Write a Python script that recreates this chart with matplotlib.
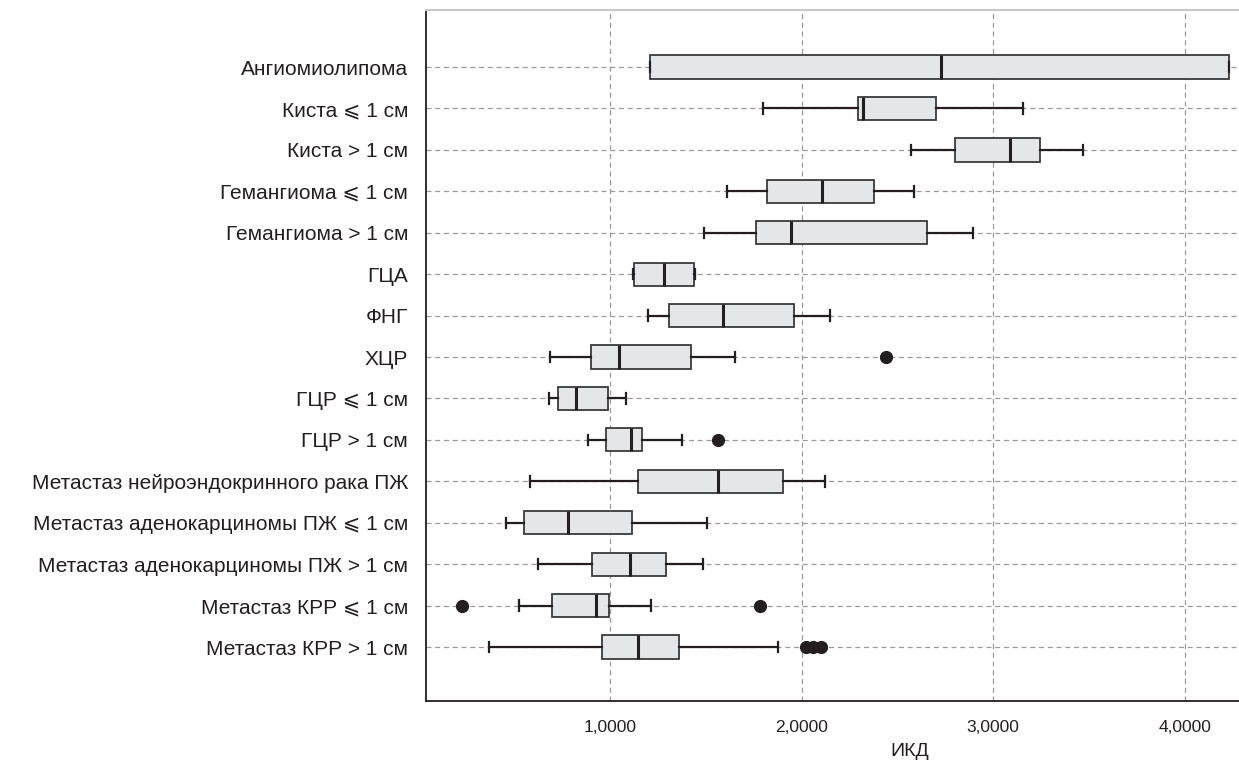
import matplotlib.pyplot as plt
from matplotlib.ticker import FuncFormatter

plt.rcParams['font.family'] = ['Liberation Sans', 'DejaVu Sans']

categories = [
    'Ангиомиолипома',
    'Киста ⩽ 1 см',
    'Киста > 1 см',
    'Гемангиома ⩽ 1 см',
    'Гемангиома > 1 см',
    'ГЦА',
    'ФНГ',
    'ХЦР',
    'ГЦР ⩽ 1 см',
    'ГЦР > 1 см',
    'Метастаз нейроэндокринного рака ПЖ',
    'Метастаз аденокарциномы ПЖ ⩽ 1 см',
    'Метастаз аденокарциномы ПЖ > 1 см',
    'Метастаз КРР ⩽ 1 см',
    'Метастаз КРР > 1 см',
]

whisker_low = [1.209, 1.800, 2.573, 1.609, 1.489, 1.120, 1.198, 0.687, 0.682, 0.882, 0.581, 0.457, 0.623, 0.525, 0.368]
q1 = [1.209, 2.294, 2.802, 1.819, 1.760, 1.127, 1.306, 0.901, 0.727, 0.977, 1.146, 0.551, 0.906, 0.699, 0.960]
median = [2.726, 2.322, 3.088, 2.105, 1.945, 1.283, 1.591, 1.047, 0.824, 1.111, 1.565, 0.781, 1.106, 0.927, 1.148]
q3 = [4.232, 2.703, 3.246, 2.378, 2.654, 1.438, 1.962, 1.424, 0.988, 1.169, 1.903, 1.113, 1.291, 0.993, 1.360]
whisker_high = [4.232, 3.154, 3.469, 2.588, 2.893, 1.444, 2.150, 1.652, 1.082, 1.377, 2.120, 1.506, 1.485, 1.212, 1.877]
outliers = [[], [], [], [], [], [], [], [2.44], [], [1.562], [], [], [], [0.228, 1.785], [2.021, 2.061, 2.103]]

stats = []
for i, name in enumerate(categories):
    stats.append(dict(label=name, whislo=whisker_low[i], q1=q1[i], med=median[i],
                      q3=q3[i], whishi=whisker_high[i], fliers=outliers[i]))

fig = plt.figure(figsize=(12.39, 7.61), dpi=100)
ax = fig.add_axes([0.344, 0.079, 0.656, 0.908])

positions = list(range(1, len(categories) + 1))

ax.bxp(stats, positions=positions, vert=False, widths=0.56, patch_artist=True,
       showcaps=True,
       boxprops=dict(facecolor='#e5e6e7', edgecolor='#3a3a3a', linewidth=1.3),
       medianprops=dict(color='#231f20', linewidth=2.2),
       whiskerprops=dict(color='#231f20', linewidth=1.6),
       capprops=dict(color='#231f20', linewidth=1.6),
       flierprops=dict(marker='o', markerfacecolor='#231f20', markeredgecolor='#231f20',
                       markersize=8.5),
       capwidths=0.25, zorder=3)

ax.set_ylim(16.3, -0.38)
ax.set_xlim(0.04, 4.283)
ax.set_xticks([1, 2, 3, 4])
ax.xaxis.set_major_formatter(FuncFormatter(lambda v, p: f'{v:.4f}'.replace('.', ',')))
ax.set_yticks(positions)
ax.set_yticklabels(categories)

ax.grid(True, linestyle=(0, (4, 3)), color='#9a9a9a', linewidth=0.9, zorder=0)
ax.set_axisbelow(True)
ax.tick_params(axis='both', length=0, colors='#231f20')
ax.tick_params(axis='y', pad=13, labelsize=15)
ax.tick_params(axis='x', pad=14, labelsize=12.5)

ax.spines['right'].set_visible(False)
ax.spines['top'].set_color('#c8c8c8')
ax.spines['top'].set_linewidth(1.5)
ax.spines['left'].set_color('#231f20')
ax.spines['bottom'].set_color('#231f20')
ax.spines['left'].set_linewidth(1.3)
ax.spines['bottom'].set_linewidth(1.3)

ax.set_xlabel('ИКД', fontsize=14, color='#231f20')
ax.xaxis.set_label_coords(0.595, -0.061)

fig.savefig('out.png', dpi=100)
